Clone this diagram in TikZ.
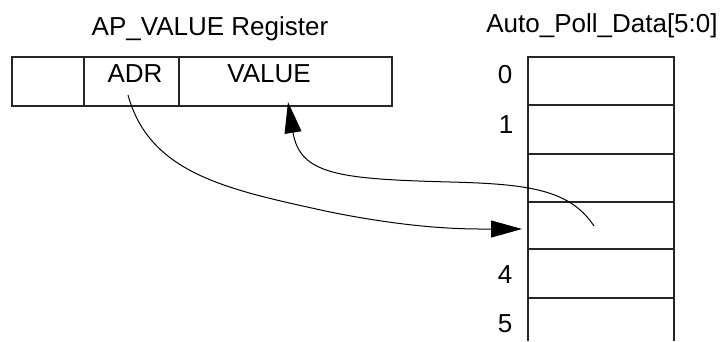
\documentclass[tikz,border=0pt]{standalone}
\usepackage{fontspec}
\setmainfont{Liberation Sans}
\usetikzlibrary{arrows.meta}
\begin{document}
\begin{tikzpicture}[x=1bp,y=-1bp,
  box/.style={draw=black!85,line width=1.5bp},
  lbl/.style={inner sep=0pt,anchor=base,font=\fontsize{26bp}{31bp}\selectfont},
  link/.style={draw=black,line width=1bp,-{Triangle[length=31bp,width=17bp]}}]
\useasboundingbox (0,0) rectangle (722,341);
% register
\draw[box] (12,57) rectangle (392,106);
\draw[box] (84,57) -- (84,106);
\draw[box] (179,57) -- (179,106);
\node[lbl] (regtitle) at (210,35) {AP\_VALUE Register};
\node[lbl] (adr) at (135,82) {ADR};
\node[lbl] (val) at (269,82) {VALUE};
% column
\node[lbl] (coltitle) at (602,32) {Auto\_Poll\_Data[5:0]};
\draw[box] (528,341) -- (528,57) -- (674,57) -- (674,341);
\foreach \yy in {105,154,202,249,298} \draw[box] (528,\yy) -- (674,\yy);
\node[lbl] (n0) at (505,83) {0};
\node[lbl] (n1) at (506,133) {1};
\node[lbl] (n4) at (505,283) {4};
\node[lbl] (n5) at (505,332) {5};
% connectors
\coordinate (a1s) at (128,95);
\coordinate (a1m) at (330,212);
\coordinate (a1e) at (522,229);
\coordinate (a2s) at (594,226);
\coordinate (a2m) at (450,182);
\coordinate (a2e) at (288,102);
\draw[link] (a1s) .. controls (150,175) and (230,190) .. (a1m)
  .. controls (420,230) and (470,229) .. (a1e);
\draw[link] (a2s) .. controls (570,190) and (530,184) .. (a2m)
  .. controls (340,179) and (300,175) .. (a2e);
\end{tikzpicture}
\end{document}
